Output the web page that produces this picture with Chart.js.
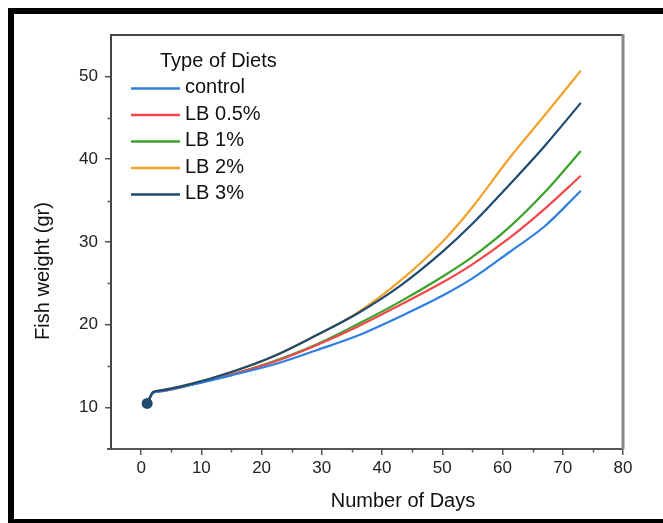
<!DOCTYPE html>
<html>
<head>
<meta charset="utf-8">
<script src="https://cdn.jsdelivr.net/npm/chart.js@4/dist/chart.umd.min.js"></script>
<style>
  html, body { margin: 0; padding: 0; background: #fff; }
  #wrap { width: 663px; height: 523px; position: relative; }
</style>
</head>
<body>
<div id="wrap"><canvas id="c" width="663" height="523"></canvas></div>
<script>
// Sampling days of the feeding trial
const days = [1, 2, 3, 8, 15, 22, 29, 36, 43, 50, 55, 61, 67, 73];

// Mean fish weight (gr) per diet
const control = [10.5, 11.8, 11.95, 12.7, 13.9, 15.2, 16.9, 18.7, 21.0, 23.5, 25.6, 28.7, 31.9, 36.2];
const lb05    = [10.5, 11.8, 11.95, 12.7, 14.0, 15.5, 17.5, 19.8, 22.4, 25.1, 27.3, 30.4, 34.0, 38.0];
const lb1     = [10.5, 11.8, 11.95, 12.7, 14.0, 15.6, 17.6, 20.1, 22.8, 25.8, 28.2, 31.7, 36.0, 41.0];
const lb2     = [10.5, 11.9, 12.05, 12.8, 14.3, 16.2, 18.7, 21.5, 25.3, 30.0, 34.2, 40.0, 45.3, 50.7];
const lb3     = [10.5, 11.9, 12.05, 12.8, 14.3, 16.2, 18.7, 21.4, 24.7, 28.8, 32.2, 36.8, 41.6, 46.8];

const seriesNames  = ['control', 'LB 0.5%', 'LB 1%', 'LB 2%', 'LB 3%'];
const seriesValues = [control, lb05, lb1, lb2, lb3];
const seriesColors = ['#2E7FE0', '#F2474B', '#3BA22B', '#F2A22A', '#1D4A70'];

const legendTitle = 'Type of Diets';
const xTitle = 'Number of Days';
const yTitle = 'Fish weight (gr)';

const xTicks = [0, 10, 20, 30, 40, 50, 60, 70, 80];
const xMinor = [5, 15, 25, 35, 45, 55, 65, 75];
const yTicks = [10, 20, 30, 40, 50];
const yMinor = [15, 25, 35, 45];

const FONT = "'Liberation Sans', Arial, sans-serif";
const AXIS_COLOR = '#555';

const datasets = seriesNames.map((name, s) => ({
  label: name,
  data: days.map((d, i) => ({ x: d, y: seriesValues[s][i] })),
  borderColor: seriesColors[s],
  backgroundColor: seriesColors[s],
  borderWidth: 2.2,
  tension: 0.4,
  cubicInterpolationMode: 'monotone',
  // the starting weight is marked with a dot on the last series
  pointRadius: s === 4 ? (ctx => ctx.dataIndex === 0 ? 5.5 : 0) : 0,
  pointBorderWidth: 0,
  order: s === 4 ? 0 : 1,
  fill: false
}));

// white page with the black frame around the figure
const framePlugin = {
  id: 'frame',
  beforeDraw(chart) {
    const ctx = chart.ctx;
    ctx.save();
    ctx.fillStyle = '#fff';
    ctx.fillRect(0, 0, chart.width, chart.height);
    ctx.fillStyle = '#000';
    ctx.fillRect(8, 8, chart.width - 8, 6);
    ctx.fillRect(8, 8, 6, chart.height - 8);
    ctx.fillRect(8, 519, chart.width - 8, 4);
    ctx.restore();
  }
};

// box edges, minor ticks, axis titles and the legend
const decorPlugin = {
  id: 'decor',
  afterDraw(chart) {
    const ctx = chart.ctx;
    const a = chart.chartArea;
    const xs = chart.scales.x, ys = chart.scales.y;
    ctx.save();
    // top and right edges of the plot box
    ctx.strokeStyle = '#444';
    ctx.lineWidth = 2;
    ctx.beginPath();
    ctx.moveTo(a.left, a.top);
    ctx.lineTo(a.right, a.top);
    ctx.stroke();
    ctx.strokeStyle = '#888';
    ctx.lineWidth = 3;
    ctx.beginPath();
    ctx.moveTo(a.right, a.top - 1);
    ctx.lineTo(a.right, a.bottom);
    ctx.stroke();
    // small overhang of the x axis line past the y axis
    ctx.strokeStyle = AXIS_COLOR;
    ctx.lineWidth = 2;
    ctx.beginPath();
    ctx.moveTo(a.left - 4, a.bottom);
    ctx.lineTo(a.left, a.bottom);
    ctx.stroke();

    // minor ticks
    ctx.lineWidth = 1.5;
    ctx.beginPath();
    xMinor.forEach(v => {
      const px = Math.round(xs.getPixelForValue(v)) + 0.5;
      ctx.moveTo(px, a.bottom);
      ctx.lineTo(px, a.bottom + 3.5);
    });
    yMinor.forEach(v => {
      const py = Math.round(ys.getPixelForValue(v)) + 0.5;
      ctx.moveTo(a.left, py);
      ctx.lineTo(a.left - 3.5, py);
    });
    ctx.stroke();

    // axis titles
    ctx.fillStyle = '#111';
    ctx.font = '20px ' + FONT;
    ctx.textAlign = 'center';
    ctx.textBaseline = 'middle';
    ctx.fillText(xTitle, 403, 501);
    ctx.save();
    ctx.translate(43, 271);
    ctx.rotate(-Math.PI / 2);
    ctx.fillText(yTitle, 0, 0);
    ctx.restore();

    // legend
    ctx.textAlign = 'left';
    ctx.fillText(legendTitle, 160, 61);
    seriesNames.forEach((name, i) => {
      const cy = 87.5 + i * 26.5;
      ctx.strokeStyle = seriesColors[i];
      ctx.lineWidth = 2.5;
      ctx.beginPath();
      ctx.moveTo(131, cy + 1);
      ctx.lineTo(180, cy + 1);
      ctx.stroke();
      ctx.fillStyle = '#111';
      ctx.fillText(name, 185, cy);
    });
    ctx.restore();
  }
};

new Chart(document.getElementById('c'), {
  type: 'line',
  data: { datasets },
  plugins: [framePlugin, decorPlugin],
  options: {
    responsive: false,
    animation: false,
    devicePixelRatio: 1,
    layout: { padding: { left: 0, top: 35, right: 40, bottom: 0 } },
    plugins: { legend: { display: false }, tooltip: { enabled: false } },
    scales: {
      x: {
        type: 'linear',
        min: -5,
        max: 80,
        afterBuildTicks: s => { s.ticks = xTicks.map(v => ({ value: v })); },
        afterFit: s => { s.height = 74; },
        grid: { display: true, drawOnChartArea: false, drawTicks: true, tickLength: 6, color: AXIS_COLOR, lineWidth: 1.5 },
        border: { display: true, color: AXIS_COLOR, width: 2 },
        ticks: { color: '#222', font: { family: FONT, size: 17 }, padding: 3, maxRotation: 0 }
      },
      y: {
        type: 'linear',
        min: 5,
        max: 55,
        afterBuildTicks: s => { s.ticks = yTicks.map(v => ({ value: v })); },
        afterFit: s => { s.width = 111; },
        grid: { display: true, drawOnChartArea: false, drawTicks: true, tickLength: 6, color: AXIS_COLOR, lineWidth: 1.5 },
        border: { display: true, color: '#444', width: 2 },
        ticks: { color: '#222', font: { family: FONT, size: 17 }, padding: 7 }
      }
    }
  }
});
</script>
</body>
</html>
